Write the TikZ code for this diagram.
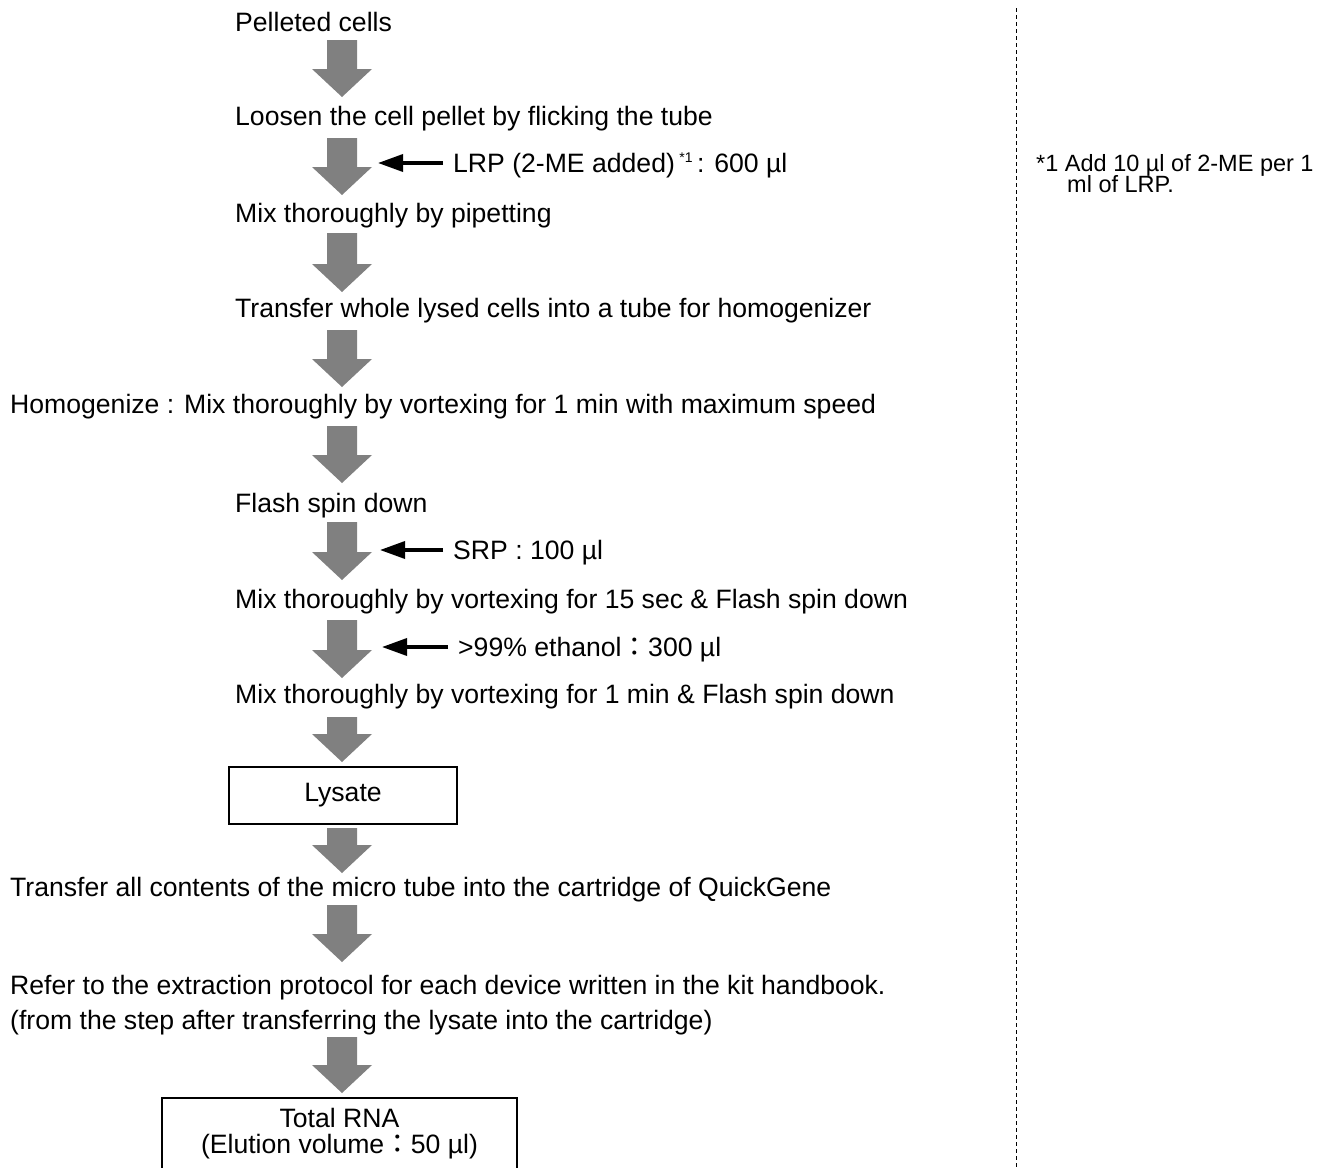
\documentclass[tikz,border=0pt]{standalone}
\usepackage{fontspec}
\setmainfont{Liberation Sans}
\newfontfamily\cjk{Noto Sans CJK JP}
\usetikzlibrary{arrows.meta}
\definecolor{arrowgray}{HTML}{808080}
\newcommand\blockarr[3]{% name, top, tip
  \fill[arrowgray] (342-15,#2) -- (342+15,#2) -- (342+15,#3-28) -- (342+30,#3-28)
    -- (342,#3) -- (342-30,#3-28) -- (342-15,#3-28) -- cycle;
  \coordinate (#1) at (342,#3);}
\newcommand\supnote[1]{\raisebox{10pt}{\fontsize{14}{14}\selectfont #1}}
\begin{document}
\begin{tikzpicture}[x=1pt,y=-1pt,
  font=\fontsize{26.6}{24}\selectfont,
  stepnode/.style={anchor=base west,inner sep=0pt},
  addlabel/.style={anchor=base west,inner sep=0pt},
  resultbox/.style={draw,line width=1.5pt,inner sep=0pt,align=center},
  addarrow/.style={line width=3.5pt,-{Triangle[length=25pt,width=17pt]}},
  note/.style={anchor=base west,inner sep=0pt,font=\fontsize{23.5}{21}\selectfont}]
\useasboundingbox (0,0) rectangle (1330,1167);
% steps
\node[stepnode] (s1) at (235,31) {Pelleted cells};
\node[stepnode] (s2) at (235,125) {Loosen the cell pellet by flicking the tube};
\node[stepnode] (s3) at (235,222) {Mix thoroughly by pipetting};
\node[stepnode] (s4) at (235,317) {Transfer whole lysed cells into a tube for homogenizer};
\node[stepnode] (s5) at (10,413) {Homogenize : Mix thoroughly by vortexing for 1 min with maximum speed};
\node[stepnode] (s6) at (235,512) {Flash spin down};
\node[stepnode] (s7) at (235,608) {Mix thoroughly by vortexing for 15 sec \& Flash spin down};
\node[stepnode] (s8) at (235,703) {Mix thoroughly by vortexing for 1 min \& Flash spin down};
\node[resultbox,minimum width=228pt,minimum height=57pt] (lys) at (343,795.5) {Lysate};
\node[stepnode] (s9) at (10,896) {Transfer all contents of the micro tube into the cartridge of QuickGene};
\node[stepnode] (s10) at (10,994) {Refer to the extraction protocol for each device written in the kit handbook.};
\node[stepnode] (s11) at (10,1029) {(from the step after transferring the lysate into the cartridge)};
\node[resultbox,minimum width=355pt,minimum height=71pt] (rna) at (339.5,1133.5)
  {Total RNA\\[1.5pt](Elution volume{\cjk ：}50 µl)};
% block arrows
\blockarr{a1}{40}{97}
\blockarr{a2}{138}{195}
\blockarr{a3}{233}{292}
\blockarr{a4}{330}{387}
\blockarr{a5}{426}{483}
\blockarr{a6}{522}{580}
\blockarr{a7}{620}{678}
\blockarr{a8}{717}{762}
\blockarr{a9}{828}{873}
\blockarr{a10}{905}{962}
\blockarr{a11}{1037}{1093}
% additions
\node[addlabel] (lrp) at (453,172) {LRP (2-ME added)\,\supnote{*1}\,: 600 µl};
\node[addlabel] (srp) at (453,559) {SRP : 100 µl};
\node[addlabel] (eth) at (458,656) {>99\% ethanol{\cjk ：}300 µl};
\coordinate (lrptip) at (378,163);
\coordinate (srptip) at (380,550);
\coordinate (ethtip) at (382,647);
\draw[addarrow] ([xshift=-10pt]lrp.base west |- lrptip) -- (lrptip);
\draw[addarrow] ([xshift=-10pt]srp.base west |- srptip) -- (srptip);
\draw[addarrow] ([xshift=-10pt]eth.base west |- ethtip) -- (ethtip);
% divider and note
\coordinate (dtop) at (1016,8);
\coordinate (dbot) at (1016,1167);
\draw[line width=1pt,dash pattern=on 4pt off 3pt] (dtop) -- (dbot);
\node[note] (n1) at (1036,171) {*1 Add 10 µl of 2-ME per 1};
\node[note] (n2) at (1067,192) {ml of LRP.};
\end{tikzpicture}
\end{document}
